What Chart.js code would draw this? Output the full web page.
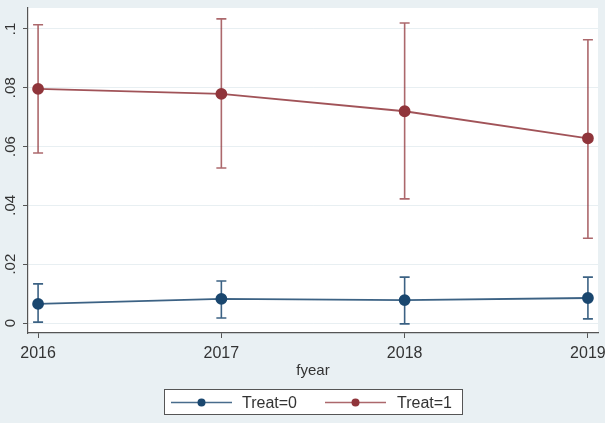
<!DOCTYPE html>
<html>
<head>
<meta charset="utf-8">
<script src="https://cdn.jsdelivr.net/npm/chart.js@4/dist/chart.umd.min.js"></script>
<style>
  html, body { margin: 0; padding: 0; background: #e9f0f3; }
  #wrap { width: 605px; height: 423px; }
</style>
</head>
<body>
<div id="wrap"><canvas id="c" width="605" height="423"></canvas></div>
<script>
// Yearly means with 95% confidence intervals, by treatment group
const years = [2016, 2017, 2018, 2019];

const treat0   = [0.0065, 0.0082, 0.0078, 0.0085];
const treat0Lo = [0.0003, 0.0017, -0.0003, 0.0014];
const treat0Hi = [0.0133, 0.0143, 0.0156, 0.0156];

const treat1   = [0.0796, 0.0779, 0.0720, 0.0628];
const treat1Lo = [0.0578, 0.0527, 0.0422, 0.0288];
const treat1Hi = [0.1014, 0.1034, 0.1020, 0.0963];

const yTicks = [0, 0.02, 0.04, 0.06, 0.08, 0.1];
const yTickLabels = ['0', '.02', '.04', '.06', '.08', '.1'];

const seriesNames = ['Treat=0', 'Treat=1'];
const NAVY = '#1a476f';
const MAROON = '#90353b';
const FONT = "'Liberation Sans', Arial, sans-serif";

const pts = (ys) => years.map((x, i) => ({ x: x, y: ys[i] }));

// Background: light graph region, white plot region
const backgroundPlugin = {
  id: 'bg',
  beforeDraw(chart) {
    const { ctx, chartArea: a } = chart;
    ctx.save();
    ctx.fillStyle = '#e9f0f3';
    ctx.fillRect(0, 0, chart.width, chart.height);
    ctx.fillStyle = '#ffffff';
    ctx.fillRect(a.left, a.top, a.right - a.left, a.bottom - a.top);
    ctx.restore();
  }
};

// Confidence-interval caps drawn under the lines and markers
const ciPlugin = {
  id: 'ci',
  beforeDatasetsDraw(chart) {
    const { ctx, scales: { x, y } } = chart;
    const groups = [
      { lo: treat0Lo, hi: treat0Hi, color: 'rgba(26,71,111,0.85)' },
      { lo: treat1Lo, hi: treat1Hi, color: 'rgba(144,53,59,0.75)' }
    ];
    ctx.save();
    ctx.lineWidth = 1.6;
    groups.forEach(g => {
      ctx.strokeStyle = g.color;
      years.forEach((yr, i) => {
        const px = x.getPixelForValue(yr);
        const top = y.getPixelForValue(g.hi[i]);
        const bot = y.getPixelForValue(g.lo[i]);
        const half = 5;
        ctx.beginPath();
        ctx.moveTo(px, top); ctx.lineTo(px, bot);
        ctx.moveTo(px - half, top); ctx.lineTo(px + half, top);
        ctx.moveTo(px - half, bot); ctx.lineTo(px + half, bot);
        ctx.stroke();
      });
    });
    ctx.restore();
  }
};

// Rotated y tick labels, x-axis title and boxed legend
const annotatePlugin = {
  id: 'annotate',
  afterDraw(chart) {
    const { ctx, scales: { y }, chartArea: a } = chart;
    ctx.save();
    ctx.fillStyle = '#333333';
    ctx.font = '15px ' + FONT;
    ctx.textAlign = 'center';
    ctx.textBaseline = 'middle';
    yTicks.forEach((v, i) => {
      const py = y.getPixelForValue(v);
      ctx.save();
      ctx.translate(11, py);
      ctx.rotate(-Math.PI / 2);
      ctx.fillText(yTickLabels[i], 0, 0);
      ctx.restore();
    });

    // x-axis title
    ctx.font = '15px ' + FONT;
    ctx.fillText('fyear', (a.left + a.right) / 2, 371);

    // legend box
    const bx = 164, by = 389, bw = 298, bh = 25;
    ctx.fillStyle = '#ffffff';
    ctx.fillRect(bx, by, bw, bh);
    ctx.strokeStyle = '#555555';
    ctx.lineWidth = 1;
    ctx.strokeRect(bx + 0.5, by + 0.5, bw, bh);

    const cy = by + bh / 2 + 1;
    const entries = [
      { x0: 171, x1: 232, color: NAVY, line: 'rgba(26,71,111,0.8)', tx: 242 },
      { x0: 325, x1: 386, color: MAROON, line: 'rgba(144,53,59,0.75)', tx: 397 }
    ];
    entries.forEach((e, i) => {
      ctx.strokeStyle = e.line;
      ctx.lineWidth = 1.5;
      ctx.beginPath();
      ctx.moveTo(e.x0, cy); ctx.lineTo(e.x1, cy);
      ctx.stroke();
      ctx.fillStyle = e.color;
      ctx.beginPath();
      ctx.arc((e.x0 + e.x1) / 2, cy, 4, 0, Math.PI * 2);
      ctx.fill();
      ctx.fillStyle = '#333333';
      ctx.font = '16px ' + FONT;
      ctx.textAlign = 'left';
      ctx.fillText(seriesNames[i], e.tx, cy + 1);
    });
    ctx.restore();
  }
};

new Chart(document.getElementById('c'), {
  type: 'line',
  data: {
    datasets: [
      {
        label: seriesNames[0],
        data: pts(treat0),
        borderColor: 'rgba(26,71,111,0.85)',
        backgroundColor: NAVY,
        pointBackgroundColor: NAVY,
        pointBorderColor: NAVY,
        borderWidth: 1.8,
        pointRadius: 5,
        tension: 0
      },
      {
        label: seriesNames[1],
        data: pts(treat1),
        borderColor: 'rgba(144,53,59,0.85)',
        backgroundColor: MAROON,
        pointBackgroundColor: MAROON,
        pointBorderColor: MAROON,
        borderWidth: 1.8,
        pointRadius: 5,
        tension: 0
      }
    ]
  },
  options: {
    responsive: false,
    animation: false,
    devicePixelRatio: 1,
    layout: { padding: { top: 8, right: 7, left: 0, bottom: 0 } },
    plugins: {
      legend: { display: false },
      tooltip: { enabled: false }
    },
    scales: {
      x: {
        type: 'linear',
        min: 2015.945,
        max: 2019.055,
        afterBuildTicks(scale) { scale.ticks = years.map(v => ({ value: v })); },
        afterFit(scale) {
          scale.height = 90;
          scale.paddingLeft = 0;
          scale.paddingRight = 0;
        },
        grid: {
          display: true,
          drawOnChartArea: false,
          drawTicks: true,
          tickLength: 5,
          tickColor: '#555555'
        },
        border: { display: true, color: '#555555', width: 1.2 },
        ticks: {
          padding: 6,
          color: '#333333',
          font: { family: FONT, size: 16 },
          maxRotation: 0,
          callback: (v) => String(v)
        }
      },
      y: {
        type: 'linear',
        min: -0.0034,
        max: 0.1071,
        afterBuildTicks(scale) { scale.ticks = yTicks.map(v => ({ value: v })); },
        afterFit(scale) {
          scale.width = 28;
          scale.paddingTop = 0;
          scale.paddingBottom = 0;
        },
        grid: {
          display: true,
          color: '#e8eff2',
          lineWidth: 1,
          drawTicks: true,
          tickLength: 5,
          tickColor: '#555555'
        },
        border: { display: true, color: '#555555', width: 1.2 },
        ticks: { display: false }
      }
    }
  },
  plugins: [backgroundPlugin, ciPlugin, annotatePlugin]
});
</script>
</body>
</html>
